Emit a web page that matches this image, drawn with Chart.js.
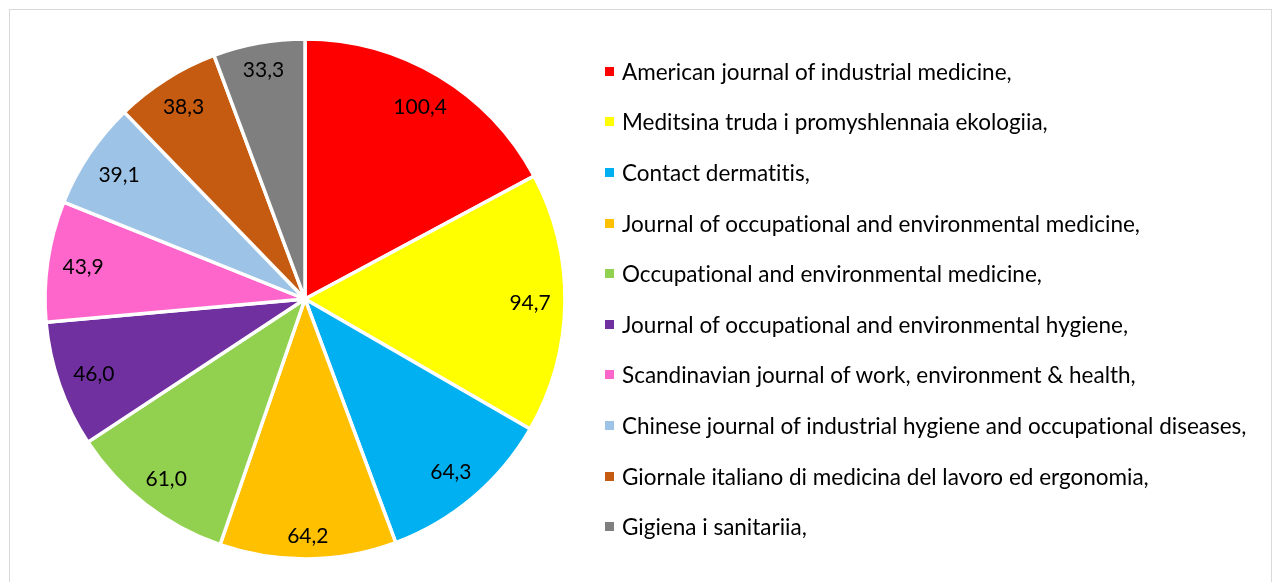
<!DOCTYPE html>
<html>
<head>
<meta charset="utf-8">
<script src="https://cdn.jsdelivr.net/npm/chart.js@4.4.1/dist/chart.umd.min.js"></script>
<style>
  html, body { margin: 0; padding: 0; background: #fff; }
  body { width: 1273px; height: 582px; position: relative; overflow: hidden; font-family: Lato, "Noto Sans", sans-serif; }
  #frame { position: absolute; left: 9px; top: 9px; width: 1263px; height: 620px; box-sizing: border-box; border: 1px solid #d9d9d9; }
  #wrap { position: absolute; left: 0; top: 0; width: 1273px; height: 582px; }
  #legend { position: absolute; left: 605px; top: 46px; margin: 0; padding: 0; list-style: none; }
  #legend li { height: 50.6px; display: flex; align-items: center; white-space: nowrap; font-size: 22.5px; color: #000; font-variant-ligatures: none; }
  #legend .sw { width: 9px; height: 9px; margin-right: 8px; flex: none; }
</style>
</head>
<body>
<div id="frame"></div>
<div id="wrap"><canvas id="c" width="1273" height="582"></canvas></div>
<ul id="legend"></ul>
<script>
const categories = [
  "American journal of industrial medicine,",
  "Meditsina truda i promyshlennaia ekologiia,",
  "Contact dermatitis,",
  "Journal of occupational and environmental medicine,",
  "Occupational and environmental medicine,",
  "Journal of occupational and environmental hygiene,",
  "Scandinavian journal of work, environment & health,",
  "Chinese journal of industrial hygiene and occupational diseases,",
  "Giornale italiano di medicina del lavoro ed ergonomia,",
  "Gigiena i sanitariia,"
];
const values = [100.4, 94.7, 64.3, 64.2, 61.0, 46.0, 43.9, 39.1, 38.3, 33.3];
const colors = ["#FF0000", "#FFFF00", "#00B0F0", "#FFC000", "#92D050", "#7030A0", "#FF66CC", "#9DC3E6", "#C55A11", "#7F7F7F"];

const fmt = v => v.toFixed(1).replace('.', ',');

const labelPlugin = {
  id: 'insideEndLabels',
  afterDatasetsDraw(chart) {
    const ctx = chart.ctx;
    const meta = chart.getDatasetMeta(0);
    ctx.save();
    ctx.font = '21px Lato, "Noto Sans", sans-serif';
    ctx.fillStyle = '#000';
    ctx.textAlign = 'center';
    ctx.textBaseline = 'middle';
    meta.data.forEach((arc, i) => {
      const p = arc.getProps(['x', 'y', 'startAngle', 'endAngle', 'outerRadius'], true);
      const mid = (p.startAngle + p.endAngle) / 2;
      const txt = fmt(values[i]);
      const w = ctx.measureText(txt).width;
      const h = 17;
      const lim = p.outerRadius - 14;
      const c = Math.abs(Math.cos(mid)), s = Math.abs(Math.sin(mid));
      let lo = 0, hi = lim;
      for (let k = 0; k < 40; k++) {
        const d = (lo + hi) / 2;
        const fx = d * c + w / 2, fy = d * s + h / 2;
        if (Math.sqrt(fx * fx + fy * fy) <= lim) lo = d; else hi = d;
      }
      ctx.fillText(txt, p.x + lo * Math.cos(mid), p.y + lo * Math.sin(mid) + 1);
    });
    ctx.restore();
  }
};

new Chart(document.getElementById('c'), {
  type: 'pie',
  data: {
    labels: categories,
    datasets: [{
      data: values,
      backgroundColor: colors,
      borderColor: '#ffffff',
      borderWidth: 3.5,
      hoverOffset: 0
    }]
  },
  options: {
    responsive: false,
    animation: false,
    radius: 260,
    layout: { padding: { left: 0, right: 663, top: 40, bottom: 24 } },
    plugins: {
      legend: { display: false },
      tooltip: { enabled: false }
    },
    events: []
  },
  plugins: [labelPlugin]
});

const ul = document.getElementById('legend');
categories.forEach((name, i) => {
  const li = document.createElement('li');
  const sw = document.createElement('span');
  sw.className = 'sw';
  sw.style.background = colors[i];
  const t = document.createElement('span');
  t.textContent = name;
  li.appendChild(sw);
  li.appendChild(t);
  ul.appendChild(li);
});
</script>
</body>
</html>
